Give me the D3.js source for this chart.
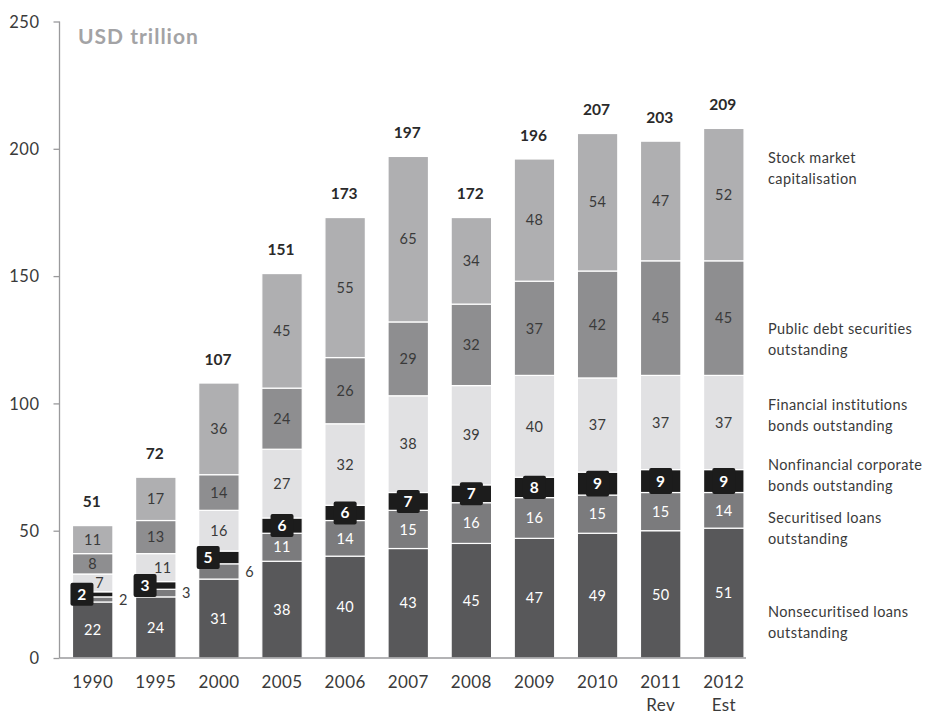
<!DOCTYPE html>
<html>
<head>
<meta charset="utf-8">
<script src="https://cdn.jsdelivr.net/npm/d3@7/dist/d3.min.js"></script>
<style>
  html, body { margin: 0; padding: 0; background: #fff; }
  svg { display: block; font-family: Lato, "Open Sans", sans-serif; }
</style>
</head>
<body>
<svg id="chart" width="925" height="715"></svg>
<script>
// Years on the x axis (second line under the last two years)
const years = ["1990", "1995", "2000", "2005", "2006", "2007", "2008", "2009", "2010", "2011", "2012"];
const yearNotes = ["", "", "", "", "", "", "", "", "", "Rev", "Est"];

// Stock of financial assets, USD trillion, bottom to top of each stack
const nonsecuritisedLoans = [22, 24, 31, 38, 40, 43, 45, 47, 49, 50, 51];
const securitisedLoans    = [2, 3, 6, 11, 14, 15, 16, 16, 15, 15, 14];
const nonfinancialBonds   = [2, 3, 5, 6, 6, 7, 7, 8, 9, 9, 9];
const financialBonds      = [7, 11, 16, 27, 32, 38, 39, 40, 37, 37, 37];
const publicDebt          = [8, 13, 14, 24, 26, 29, 32, 37, 42, 45, 45];
const stockMarket         = [11, 17, 36, 45, 55, 65, 34, 48, 54, 47, 52];
const totals              = [51, 72, 107, 151, 173, 197, 172, 196, 207, 203, 209];

const seriesNames = [
  ["Nonsecuritised loans", "outstanding"],
  ["Securitised loans", "outstanding"],
  ["Nonfinancial corporate", "bonds outstanding"],
  ["Financial institutions", "bonds outstanding"],
  ["Public debt securities", "outstanding"],
  ["Stock market", "capitalisation"]
];
const yTicks = [0, 50, 100, 150, 200, 250];

const seriesValues = [nonsecuritisedLoans, securitisedLoans, nonfinancialBonds,
                      financialBonds, publicDebt, stockMarket];
const keys = ["nonsec", "sec", "nfc", "fin", "pub", "stock"];
const fills = ["#58585a", "#7b7b7d", "#1c1c1c", "#e1e1e3", "#8e8e90", "#afafb1"];
const labelFills = ["#ffffff", "#ffffff", "#ffffff", "#3a3a3a", "#3a3a3a", "#3a3a3a"];
// Where each legend caption sits, in chart units
const legendAnchor = [18.3, 55.1, 75.8, 99.6, 129.5, 196.3];

const rows = years.map((yr, i) => {
  const r = { year: yr };
  keys.forEach((k, j) => { r[k] = seriesValues[j][i]; });
  return r;
});

const svg = d3.select("#chart");
const axisX = 59.5, baseY = 658;

const x = d3.scaleBand().domain(years).range([axisX, 757])
  .paddingInner(0.359).paddingOuter(0.2055);
const y = d3.scaleLinear().domain([0, 250]).range([baseY, 21.5]);

const stack = d3.stack().keys(keys);
const layers = stack(rows);

// Stacked bars
const gBars = svg.append("g");
layers.forEach((layer, j) => {
  gBars.selectAll(null).data(layer).enter().append("rect")
    .attr("x", d => x(d.data.year))
    .attr("y", d => y(d[1]))
    .attr("width", x.bandwidth())
    .attr("height", d => y(d[0]) - y(d[1]))
    .attr("fill", fills[j])
    .attr("stroke", "#ffffff")
    .attr("stroke-width", 1.2);
});

// Axes
svg.append("line").attr("x1", axisX).attr("x2", axisX)
  .attr("y1", y(250)).attr("y2", baseY)
  .attr("stroke", "#9a9a9c").attr("stroke-width", 1.3);
svg.append("line").attr("x1", axisX).attr("x2", 746)
  .attr("y1", baseY).attr("y2", baseY)
  .attr("stroke", "#9a9a9c").attr("stroke-width", 1.3);

const yAxis = d3.axisLeft(y).tickValues(yTicks).tickSize(6).tickPadding(14);
const gy = svg.append("g").attr("transform", `translate(${axisX},0)`).call(yAxis);
gy.select(".domain").remove();
gy.selectAll(".tick line").attr("stroke", "#9a9a9c").attr("stroke-width", 1.3);
gy.selectAll(".tick text").attr("font-size", 16.5).attr("fill", "#3a3a3a")
  .attr("font-family", "Lato, sans-serif").attr("dy", "0.35em")
  .attr("letter-spacing", 0.5);

// Year labels
const gx = svg.append("g");
gx.selectAll(null).data(years).enter().append("text")
  .attr("x", d => x(d) + x.bandwidth() / 2)
  .attr("y", 688)
  .attr("text-anchor", "middle")
  .attr("font-size", 17).attr("fill", "#3a3a3a").attr("letter-spacing", 0.4)
  .text(d => d);
gx.selectAll(null).data(years).enter().append("text")
  .attr("x", d => x(d) + x.bandwidth() / 2)
  .attr("y", 711)
  .attr("text-anchor", "middle")
  .attr("font-size", 17).attr("fill", "#3a3a3a").attr("letter-spacing", 0.4)
  .text((d, i) => yearNotes[i]);

// Unit caption
svg.append("text").attr("x", 78).attr("y", 44)
  .attr("font-size", 21).attr("font-weight", 700).attr("letter-spacing", 1.0)
  .attr("fill", "#a3a3a5").text("USD trillion");

// Segment value labels
const gLab = svg.append("g").attr("font-size", 14.5).attr("letter-spacing", 0.3);
layers.forEach((layer, j) => {
  layer.forEach((d, i) => {
    const v = d.data[keys[j]];
    const left = x(d.data.year);
    const cx = left + x.bandwidth() / 2;
    const cy = (y(d[0]) + y(d[1])) / 2;
    const smallSec = securitisedLoans[i] <= 6;
    if (keys[j] === "nfc") {
      const bh = Math.max(23, y(d[0]) - y(d[1]) + 3);
      const bw = 23;
      const bx = smallSec ? left - 2 : cx - bw / 2;
      gLab.append("rect").attr("x", bx).attr("y", cy - bh / 2)
        .attr("width", bw).attr("height", bh).attr("rx", 2)
        .attr("fill", fills[j]);
      gLab.append("text").attr("x", bx + bw / 2).attr("y", cy)
        .attr("dy", "0.36em").attr("text-anchor", "middle")
        .attr("font-weight", 700).attr("font-size", 15.5)
        .attr("fill", labelFills[j]).text(v);
    } else if (keys[j] === "sec" && smallSec) {
      gLab.append("text").attr("x", left + x.bandwidth() + 6).attr("y", cy)
        .attr("dy", "0.36em").attr("text-anchor", "start")
        .attr("fill", "#3a3a3a").text(v);
    } else {
      const dx = (keys[j] === "fin" && securitisedLoans[i] <= 3) ? 7 : 0;
      gLab.append("text").attr("x", cx + dx).attr("y", cy)
        .attr("dy", "0.36em").attr("text-anchor", "middle")
        .attr("fill", labelFills[j]).text(v);
    }
  });
});

// Totals above each stack
const topLayer = layers[layers.length - 1];
svg.append("g").selectAll(null).data(topLayer).enter().append("text")
  .attr("x", d => x(d.data.year) + x.bandwidth() / 2 - 1)
  .attr("y", d => y(d[1]) - 24)
  .attr("dy", "0.36em")
  .attr("text-anchor", "middle")
  .attr("font-size", 15.5).attr("font-weight", 700).attr("fill", "#2a2a2a")
  .text((d, i) => totals[i]);

// Series captions to the right
const gLeg = svg.append("g").attr("font-size", 14.5).attr("fill", "#3a3a3a")
  .attr("letter-spacing", 0.4);
seriesNames.forEach((lines, j) => {
  const t = gLeg.append("text").attr("x", 768).attr("y", y(legendAnchor[j]));
  lines.forEach((ln, k) => {
    t.append("tspan").attr("x", 768).attr("dy", k === 0 ? "0.36em" : 21).text(ln);
  });
});
</script>
</body>
</html>
